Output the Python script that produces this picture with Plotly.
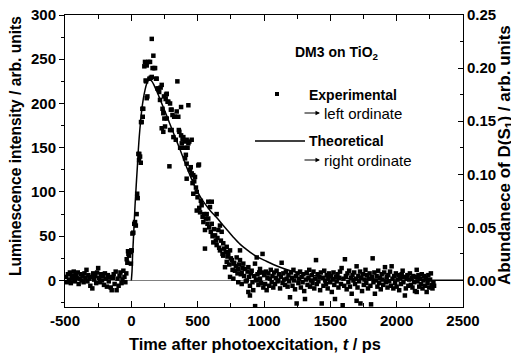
import plotly.graph_objects as go

# ---------------- data ----------------
# experimental luminescence intensity (left ordinate)
exp_t = [
    -492, -485, -478, -470, -463, -456, -448, -441, -434, -426, -419, -412, -404, -397, -390, -382,
    -375, -368, -360, -353, -346, -338, -331, -324, -316, -309, -302, -294, -287, -280, -272, -265,
    -258, -250, -243, -236, -228, -221, -214, -206, -199, -192, -184, -177, -170, -162, -155, -148,
    -140, -133, -126, -118, -111, -104, -96, -89, -82, -74, -67, -60, -52, -45, -38, -35, -30, -25,
    -22, -17, -10, -3, 0, 3, 8, 15, 22, 28, 34, 40, 44, 48,
    53, 58, 60, 66, 71, 73, 78, 83, 86, 90, 98, 103, 108, 111, 116, 116, 121, 128, 136, 141,
    146, 154, 154, 160, 166, 172, 179, 186, 191, 197, 204, 210, 216, 221, 229, 229, 235, 241, 241, 246,
    249, 254, 259, 262, 267, 267, 273, 279, 287, 292, 292, 298, 304, 304, 310, 317, 323, 329, 335, 342,
    347, 354, 358, 362, 368, 375, 375, 380, 386, 392, 398, 405, 405, 411, 417, 417, 417, 424, 430, 430,
    437, 442, 448, 455, 455, 461, 467, 467, 474, 480, 487, 493, 493, 499, 505, 510, 512, 518, 524, 530,
    537, 543, 549, 555, 555, 562, 568, 574, 580, 580, 587, 593, 599, 606, 606, 612, 618, 624, 631, 637,
    643, 643, 649, 656, 662, 668, 668, 675, 681, 687, 693, 693, 700, 706, 712, 719, 719, 725, 731, 738,
    744, 744, 750, 757, 763, 769, 769, 775, 781, 788, 794, 800, 806, 806, 812, 819, 819, 825, 832, 832,
    838, 844, 850, 857, 863, 870, 876, 882, 882, 888, 894, 894, 900, 907, 913, 919, 926, 932, 933, 939,
    945, 945, 951, 958, 964, 970, 970, 977, 983, 989, 995,
    1002, 1008, 1014, 1020, 1026, 1033, 1039, 1045, 1051, 1058, 1064, 1070, 1077, 1083, 1089, 1095,
    1102, 1108, 1114, 1121, 1127, 1133, 1140, 1146, 1152, 1159, 1165, 1171, 1178, 1184, 1190, 1196,
    1203, 1209, 1215, 1222, 1228, 1234, 1241, 1246, 1253, 1259, 1265, 1272, 1278, 1284, 1291, 1297,
    1303, 1309, 1316, 1322, 1328, 1335, 1341, 1347, 1354, 1360, 1366, 1373, 1379, 1385, 1392, 1398,
    1404, 1410, 1417, 1423, 1429, 1435, 1442, 1448, 1454, 1461, 1467, 1473, 1480, 1486, 1492, 1499,
    1505, 1511, 1518, 1524, 1530, 1535, 1542, 1548, 1554, 1561, 1567, 1573, 1580, 1585, 1593, 1599,
    1605, 1610, 1617, 1623, 1629, 1636, 1642, 1648, 1655, 1661, 1667, 1674, 1680, 1686, 1692, 1698,
    1698, 1705, 1711, 1717, 1724, 1727, 1733, 1739, 1746, 1752, 1758, 1765, 1771, 1777, 1784, 1790,
    1796, 1802, 1807, 1813, 1819, 1825, 1832, 1836, 1842, 1849, 1855, 1861, 1868, 1874, 1880, 1887,
    1893, 1899, 1906, 1912, 1918, 1925, 1931, 1937, 1944, 1950, 1956, 1962, 1969, 1975, 1981, 1988,
    1994, 2000, 2007, 2013, 2019, 2026, 2032, 2038, 2045, 2051, 2057, 2062, 2069, 2075, 2081, 2088,
    2094, 2100, 2107, 2113, 2119, 2126, 2132, 2138, 2145, 2151, 2151, 2157, 2164, 2170, 2176, 2183,
    2189, 2195, 2202, 2208, 2214, 2220, 2226, 2233, 2239, 2245, 2252, 2258, 2264, 2270, 2277, 2282,
]
exp_v = [
    4, -2, 7, 1, 9, -3, 5, 2, 10, -1, 6, 3, 9, -4, 2, 7,
    0, 5, -2, 8, 3, 12, -1, 6, 2, -6, 4, -9, 8, 1, 5, -3,
    9, 14, 3, -2, 7, 0, 5, -5, 8, 2, -7, 6, -1, 4, -8, -11,
    3, 7, -4, 10, -11, 2, -6, 5, 9, -3, 1, 11, 4, -2, 8, 24, 20, 33,
    30, 28, 32, 19, 34, 34, 53, 54, 64, 66, 62, 75, 98, 93,
    143, 136, 143, 140, 133, 179, 179, 194, 185, 194, 242, 247, 226, 225, 243, 206, 208, 247, 228, 247,
    229, 273, 230, 240, 254, 240, 240, 228, 228, 217, 217, 213, 204, 218, 221, 172, 194, 189, 168, 208,
    183, 174, 205, 210, 211, 183, 202, 202, 129, 200, 170, 193, 193, 170, 187, 162, 185, 185, 159, 191,
    225, 185, 170, 168, 150, 196, 164, 155, 160, 162, 150, 157, 138, 142, 159, 132, 115, 150, 198, 155,
    157, 125, 128, 159, 121, 110, 119, 98, 112, 117, 105, 100, 79, 94, 130, 131, 82, 77, 90, 85,
    72, 66, 75, 57, 36, 70, 75, 64, 89, 70, 60, 83, 55, 89, 64, 50, 43, 58, 51, 45,
    75, 40, 48, 57, 37, 62, 34, 45, 55, 30, 42, 28, 36, 15, 32, 38, 21, 27, 30, 18,
    34, 4, 25, 23, 12, 19, 2, 20, 11, 16, 26, 8, 13, -2, 18, 34, 23, 7, 9, -4,
    14, 19, 5, 13, -1, 0, 10, 15, -13, 4, -6, -17, 8, 11, -2, -11, 5, 19, -29, 1,
    26, 0, 7, -5, 9, 13, 2, -3, 9, 30, -8,
    6, -4, 10, -11, 3, 8, -6, 2, 12, -2, 5, -8, 9, -4, 3, 11,
    -1, 0, 7, -9, 4, 20, -3, 8, 1, -5, 10, 2, -7, 6, -1, -19,
    9, 3, -6, 12, 0, -10, 5, -26, 8, -3, 2, 10, -8, 4, -2, 7,
    -12, -21, 1, 9, -5, 3, 12, -7, 0, 6, -3, 10, -9, 2, 23, -4,
    7, -1, 4, -11, 9, -26, 3, -6, 11, 0, -4, 6, -9, 2, 8, -2,
    5, -13, 1, 9, -5, -21, 4, -1, 7, -8, 3, 10, -4, 14, -28, 2,
    -6, 24, 5, -10, 8, -2, 11, -7, 3, -15, 6, 0, 9, -4, 2, 16,
    -23, -8, 5, -1, 10, -26, 3, -12, 7, -5, 1, 12, -3, 6, -9, 2,
    8, -6, -27, 4, 25, -2, 9, -15, 0, 5, -7, 11, -3, 3, -10, 7,
    1, -5, 9, 15, -2, 4, -8, 6, -1, 10, -6, 16, 2, -9, 5, -3,
    8, -7, 1, 6, -11, 3, -4, 7, 11, -2, 4, -17, -9, 2, 6, -6,
    1, 8, -5, 3, -8, 5, -2, -12, 4, 12, -13, -1, 6, -7, 2, -4,
    7, -9, 0, 5, -6, 3, -13, -3, 6, -8, 1, 8, -5, -9, -3, -6,
]

# theoretical abundance of D(S1) (right ordinate)
theo_t = [0, 5, 10, 15, 20, 28, 37, 46, 53, 60, 70, 78, 90, 103, 115, 128, 140, 155, 170, 185,
          200, 216, 240, 267, 290, 317, 340, 367, 390, 417, 442, 467, 493, 518, 543, 568, 600, 643,
          693, 740, 769, 819, 860, 894, 945, 1000, 1070, 1121, 1200, 1296, 1400, 1548, 1700, 1900,
          2100, 2300, 2500]
theo_v = [0, 0.0083, 0.025, 0.0375, 0.05, 0.0708, 0.09, 0.1083, 0.1233, 0.1358, 0.15, 0.16, 0.1708,
          0.1792, 0.185, 0.1883, 0.1892, 0.1875, 0.1842, 0.18, 0.1758, 0.1708, 0.1633, 0.155, 0.1475,
          0.1392, 0.1317, 0.1233, 0.1158, 0.1067, 0.0992, 0.0917, 0.085, 0.0792, 0.0742, 0.07, 0.065,
          0.0592, 0.0517, 0.045, 0.0408, 0.0342, 0.03, 0.0267, 0.0225, 0.0192, 0.015, 0.0125, 0.0092,
          0.0063, 0.0042, 0.0023, 0.0013, 0.0007, 0.0003, 0.0002, 0.0001]

x_ticks = [-500, 0, 500, 1000, 1500, 2000, 2500]
x_tick_text = ["-500", "0", "500", "1000", "1500", "2000", "2500"]
y_left_ticks = [0, 50, 100, 150, 200, 250, 300]
y_right_ticks = [0.00, 0.05, 0.10, 0.15, 0.20, 0.25]

FONT = "Liberation Sans, Arial, sans-serif"

fig = go.Figure()
fig.add_trace(go.Scatter(x=exp_t, y=exp_v, mode="markers",
                         marker=dict(symbol="square", size=4.5, color="black", line=dict(width=0)),
                         yaxis="y", showlegend=False))
fig.add_trace(go.Scatter(x=theo_t, y=theo_v, mode="lines", line=dict(color="black", width=1.5, shape="spline"),
                         yaxis="y2", showlegend=False))

axis_common = dict(showline=True, linecolor="black", linewidth=1, showgrid=False, automargin=False,
                   ticklabeloverflow="allow",
                   tickfont=dict(family=FONT, size=15, color="black", weight="bold"))

# the page body adds an 8 px offset, so the figure is 8 px smaller and the left/top margins 8 px less
fig.update_layout(
    width=511, height=347,
    margin=dict(l=57, r=56, t=7, b=48),
    paper_bgcolor="white", plot_bgcolor="white",
    xaxis=dict(range=[-500, 2500], tickvals=x_ticks, ticktext=x_tick_text, ticks="inside", ticklen=6,
               tickcolor="black", mirror="ticks", zeroline=False,
               minor=dict(ticks="inside", ticklen=4, dtick=250, tickcolor="black"),
               **axis_common),
    yaxis=dict(range=[-30, 300], tickvals=y_left_ticks, ticks="outside", ticklen=5, tickcolor="black",
               zeroline=True, zerolinecolor="#808080", zerolinewidth=1,
               minor=dict(ticks="outside", ticklen=3, dtick=25, tickcolor="black"),
               **axis_common),
    yaxis2=dict(range=[-0.025, 0.25], tickvals=y_right_ticks, tickformat=".2f", overlaying="y", side="right",
                ticks="inside", ticklen=5, tickcolor="black", zeroline=False,
                minor=dict(ticks="inside", ticklen=3, dtick=0.025, tickcolor="black"),
                **axis_common),
)

def px(x):
    return (x - 65) / 398.0

def py(y):
    return (307 - y) / 292.0

bold = dict(family=FONT, size=14, color="black", weight="bold")
normal = dict(family=FONT, size=15, color="black")

# axis titles (placed as annotations in paper space)
fig.add_annotation(xref="paper", yref="paper", x=px(255), y=py(344), xanchor="center", yanchor="middle",
                   text="Time after photoexcitation, <i>t</i> / ps", showarrow=False,
                   font=dict(family=FONT, size=16.4, color="black", weight="bold"))
fig.add_annotation(xref="paper", yref="paper", x=px(15), y=py(146), xanchor="center", yanchor="middle",
                   text="Luminescence intensity / arb. units", textangle=-90, showarrow=False,
                   font=dict(family=FONT, size=15.6, color="black", weight="bold"))
fig.add_annotation(xref="paper", yref="paper", x=px(506), y=py(155), xanchor="center", yanchor="middle",
                   text="Abundanece of D(S<sub>1</sub>) / arb. units", textangle=-90, showarrow=False,
                   font=dict(family=FONT, size=17, color="black", weight="bold"))

anns = [
    dict(text="DM3 on TiO<sub>2</sub>", x=px(293), y=py(53), font=bold),
    dict(text="Experimental", x=px(307), y=py(95), font=bold),
    dict(text="left ordinate", x=px(322), y=py(113), font=normal),
    dict(text="Theoretical", x=px(307), y=py(141), font=bold),
    dict(text="right ordinate", x=px(322), y=py(160), font=normal),
]
for a in anns:
    fig.add_annotation(xref="paper", yref="paper", xanchor="left", yanchor="middle",
                       showarrow=False, **a)

for yy in (113, 160):
    fig.add_annotation(xref="paper", yref="paper", x=px(320), y=py(yy), text="", showarrow=True,
                       ax=-17, ay=0, arrowhead=2, arrowsize=0.9, arrowwidth=1, arrowcolor="black")

fig.add_shape(type="line", xref="paper", yref="paper", x0=px(255), x1=px(305), y0=py(141), y1=py(141),
              line=dict(color="black", width=1.5))
fig.add_shape(type="rect", xref="paper", yref="paper", xsizemode="pixel", ysizemode="pixel",
              xanchor=px(277), yanchor=py(94), x0=-2, x1=2, y0=-2, y1=2,
              fillcolor="black", line=dict(width=0))

fig.write_html("out.html")
